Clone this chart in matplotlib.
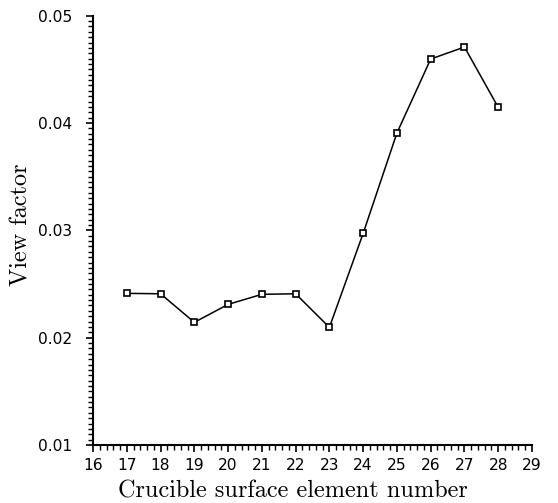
import matplotlib
matplotlib.use("Agg")
import matplotlib.pyplot as plt
from matplotlib.ticker import MultipleLocator

elements = [17, 18, 19, 20, 21, 22, 23, 24, 25, 26, 27, 28]
view_factor = [0.02413, 0.02409, 0.02143, 0.0231, 0.02404, 0.02409, 0.02096,
               0.02972, 0.03907, 0.04596, 0.04708, 0.04146]
x_ticks = list(range(16, 30))
y_ticks = [0.01, 0.02, 0.03, 0.04, 0.05]

fig = plt.figure(figsize=(5.58, 5.03), dpi=100)
ax = fig.add_axes([0.1667, 0.1153, 0.7867, 0.8535])

ax.plot(elements, view_factor, color="black", lw=1.1, marker="s", ms=3.8,
        mfc="white", mec="black", mew=1.2)

ax.set_xlim(16, 29)
ax.set_ylim(0.01, 0.05)
ax.set_xticks(x_ticks)
ax.set_yticks(y_ticks)
ax.set_yticklabels([f"{v:.2f}" for v in y_ticks])
ax.xaxis.set_minor_locator(MultipleLocator(0.2))
ax.yaxis.set_minor_locator(MultipleLocator(0.0005))

for s in ["top", "right"]:
    ax.spines[s].set_visible(False)
for s in ["left", "bottom"]:
    ax.spines[s].set_linewidth(1.5)

ax.tick_params(which="major", direction="out", length=5, width=1.2,
               labelsize=11.2)
ax.tick_params(axis="y", which="major", pad=10)
ax.tick_params(axis="x", which="major", pad=4.5)
ax.tick_params(which="minor", direction="out", length=3.5, width=1.0)
for lab in ax.get_xticklabels() + ax.get_yticklabels():
    lab.set_family("DejaVu Sans")

ax.set_xlabel("Crucible surface element number", family="cmr10",
              fontsize=17.5)
ax.xaxis.set_label_coords(0.456, -0.083)
ax.set_ylabel("View factor", family="cmr10", fontsize=17.5)
ax.yaxis.set_label_coords(-0.137, 0.513)

fig.savefig("out.png", dpi=100)
